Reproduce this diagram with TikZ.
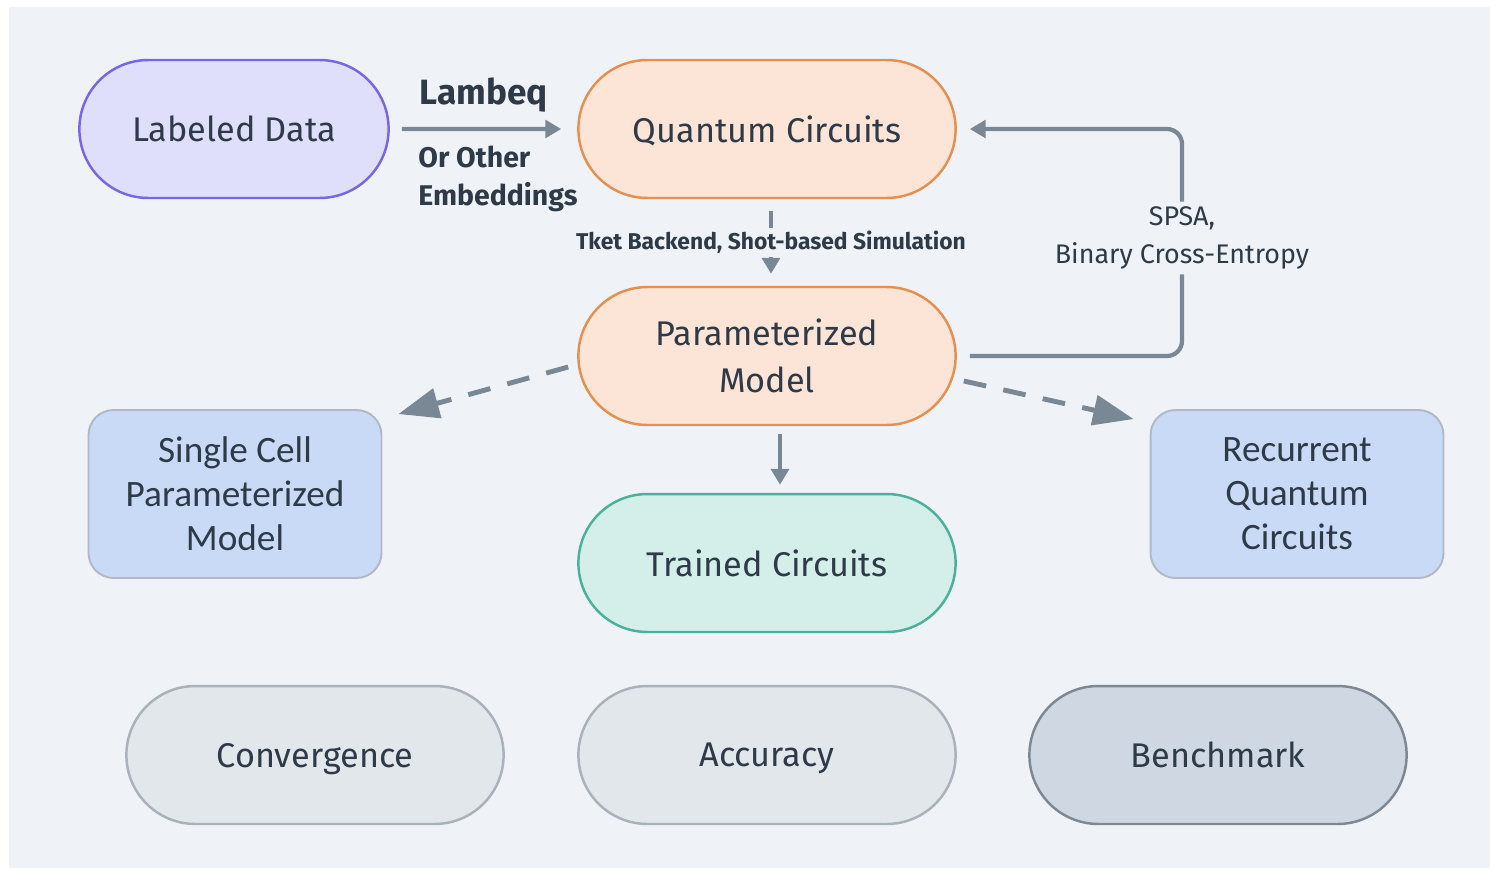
\documentclass[tikz,border=0pt]{standalone}
\usepackage{fontspec}
\setmainfont{Fira Sans}
\newfontfamily\calibri{Carlito}
\usetikzlibrary{shapes.misc,arrows.meta}
\definecolor{fond}{HTML}{EFF3F7}
\definecolor{texte}{HTML}{2E3A47}
\definecolor{gris}{HTML}{7A8794}
\definecolor{lavande}{HTML}{DFDEFB}
\definecolor{violet}{HTML}{7866E6}
\definecolor{peche}{HTML}{FCE5D6}
\definecolor{orange}{HTML}{E58F50}
\definecolor{menthe}{HTML}{D4EEEA}
\definecolor{sarcelle}{HTML}{49B19C}
\definecolor{bleu}{HTML}{C9DAF6}
\definecolor{grisbord}{HTML}{B2B9C3}
\definecolor{clair}{HTML}{E2E7EC}
\definecolor{clairbord}{HTML}{A9B1BA}
\definecolor{ardoise}{HTML}{CFD8E2}
\definecolor{ardoisebord}{HTML}{7E8893}
\begin{document}
\begin{tikzpicture}[x=0.02cm,y=-0.02cm,
  pilule/.style={rounded rectangle, draw, line width=1.4pt, minimum width=7.78cm,
    minimum height=2.76cm, text=texte, align=center, font=\fontsize{19.5}{26.5}\selectfont},
  ligne/.style={text depth=0pt},
  boite/.style={rectangle, rounded corners=0.5cm, draw=grisbord, fill=bleu, line width=1.1pt,
    minimum width=5.86cm, minimum height=3.36cm, text=texte, align=center,
    font=\calibri\fontsize{21.2}{25}\selectfont},
  etiquette/.style={text=texte, font=\bfseries\fontsize{16.2}{21.6}\selectfont},
  fleche/.style={draw=gris, line width=2.4pt, -{Triangle[length=9pt,width=10pt]}},
  pointille/.style={draw=gris, line width=2.8pt, dash pattern=on 13pt off 10pt,
    -{Triangle[length=23pt,width=17pt]}}]
% Fond
\fill[white] (0,0) rectangle (1490,869);
\fill[fond] (9,7) rectangle (1490,868);
\useasboundingbox (0,0) rectangle (1490,869);
% Premiere ligne
\node[pilule, ligne, fill=lavande, draw=violet, minimum width=6.42cm] (donnees) at (234,129) {Labeled Data};
\node[pilule, ligne, fill=peche, draw=orange] (circuits) at (767,129) {Quantum Circuits};
% Modele
\node[pilule, fill=peche, draw=orange] (modele) at (767,356) {Parameterized\\Model};
\node[pilule, ligne, fill=menthe, draw=sarcelle] (entraines) at (767,563) {Trained Circuits};
% Variantes
\node[boite] (cellule) at (235,494) {Single Cell\\Parameterized\\Model};
\node[boite] (recurrent) at (1297,494) {Recurrent\\Quantum\\Circuits};
% Evaluation
\node[pilule, ligne, fill=clair, draw=clairbord] (convergence) at (315,755) {Convergence};
\node[pilule, ligne, fill=clair, draw=clairbord] (precision) at (767,755) {Accuracy};
\node[pilule, ligne, fill=ardoise, draw=ardoisebord] (benchmark) at (1218,755) {Benchmark};
% Plongement
\draw[fleche, shorten <=0.24cm, shorten >=0.32cm] (donnees) -- (circuits)
  node[midway, above=5pt, etiquette, font=\bfseries\fontsize{20}{24}\selectfont] (lambeq) {Lambeq};
\node[etiquette, anchor=north west, align=left, inner sep=0pt] (autres) at (418,146) {Or Other\\Embeddings};
% Simulation
\draw[fleche, shorten <=0.24cm, shorten >=0.24cm] ([xshift=0.08cm]circuits.south) -- ([xshift=0.08cm]modele.north)
  node[midway, fill=fond, inner sep=2pt, etiquette, font=\bfseries\fontsize{13}{15}\selectfont] (tket) {Tket Backend, Shot-based Simulation};
% Optimisation
\draw[fleche, rounded corners=0.3cm] ([xshift=0.26cm]modele.east) -| (1182,238)
  node[fill=fond, text=texte, align=center, inner sep=3pt, font=\fontsize{15.3}{21.5}\selectfont] (spsa) {SPSA,\\Binary Cross-Entropy}
  |- ([xshift=0.26cm]circuits.east);
% Entrainement
\draw[fleche, shorten <=0.16cm, shorten >=0.16cm] ([xshift=0.26cm]modele.south) -- ([xshift=0.26cm]entraines.north);
% Extensions
\draw[pointille] ([xshift=-0.18cm,yshift=-0.22cm]modele.west) -- ([xshift=0.32cm,yshift=-0.1cm]cellule.north east);
\draw[pointille] ([xshift=0.14cm,yshift=-0.5cm]modele.east) -- ([xshift=-0.32cm,yshift=-0.2cm]recurrent.north west);
\end{tikzpicture}
\end{document}
